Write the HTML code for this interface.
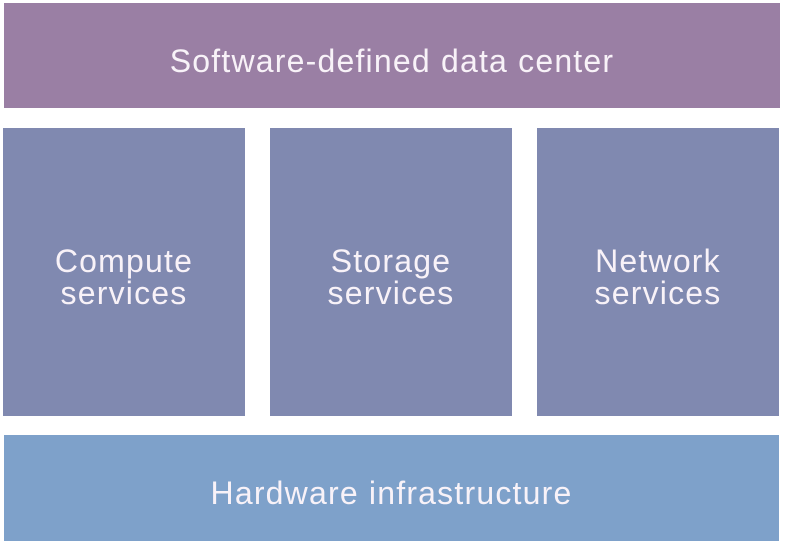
<!DOCTYPE html>
<html><head><style>
html,body{margin:0;padding:0;background:#fff;}
body{width:785px;height:545px;position:relative;overflow:hidden;font-family:"Liberation Sans",sans-serif;}
.b{position:absolute;display:flex;align-items:center;justify-content:center;text-align:center;color:#f8f2f8;font-size:32px;line-height:32px;letter-spacing:1.2px;box-sizing:border-box;padding-top:10px;}
</style></head><body>
<div class="b" style="left:4px;top:3px;width:776px;height:105px;background:#9a7fa4;">Software-defined data center</div>
<div class="b" style="left:3px;top:128px;width:242px;height:288px;background:#8089b0;">Compute<br>services</div>
<div class="b" style="left:270px;top:128px;width:242px;height:288px;background:#8089b0;">Storage<br>services</div>
<div class="b" style="left:537px;top:128px;width:242px;height:288px;background:#8089b0;">Network<br>services</div>
<div class="b" style="left:4px;top:435px;width:775px;height:106px;background:#7ea1ca;">Hardware infrastructure</div>
</body></html>
